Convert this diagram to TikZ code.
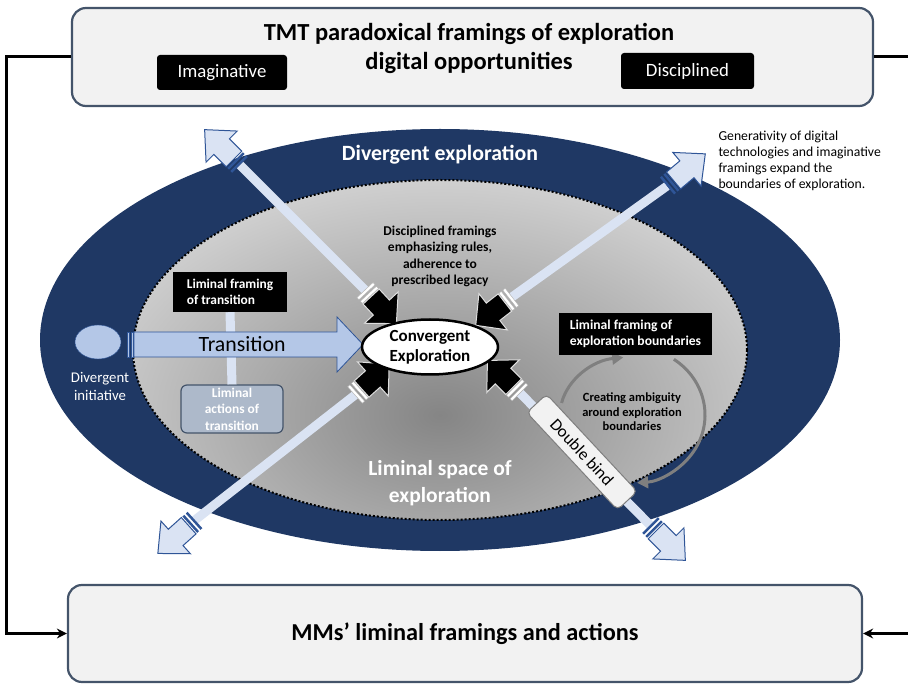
\documentclass[tikz,border=0pt]{standalone}
\usepackage{fontspec}
\setmainfont{Carlito}
\usetikzlibrary{arrows.meta,positioning,calc,shapes.geometric}

\definecolor{navy}{HTML}{1F3864}
\definecolor{boxgray}{HTML}{F2F2F2}
\definecolor{slate}{HTML}{44546A}
\definecolor{paleblue}{HTML}{DAE3F3}
\definecolor{midblue}{HTML}{B4C7E7}
\definecolor{edgeblue}{HTML}{2F5597}
\definecolor{actblue}{HTML}{ADB9CA}
\definecolor{ringgray}{HTML}{7F7F7F}
\definecolor{spacein}{HTML}{858585}
\definecolor{spaceout}{HTML}{D4D4D4}

\tikzset{
  mainbox/.style={draw=slate, line width=2.2pt, fill=boxgray, rounded corners=14pt},
  tagbox/.style={fill=black, text=white, rounded corners=3pt, font=\fontsize{18.8}{22}\selectfont},
  framebox/.style={fill=black, text=white, align=left, inner sep=3pt, font=\bfseries\fontsize{13.4}{16}\selectfont},
  feedback/.style={line width=3pt, -{Stealth[length=10pt,width=10pt]}},
  link/.style={paleblue, line width=9pt},
  ringarrow/.style={ringgray, line width=3pt, -{Triangle[length=11pt,width=12pt]}},
  outarrow/.pic={
    \fill[edgeblue] (0,-11) rectangle (2.5,11);
    \fill[edgeblue] (4.5,-11) rectangle (7,11);
    \draw[edgeblue, fill=paleblue, line width=1pt] (8.5,-11) -- (26,-11) -- (26,-22) -- (50,0) -- (26,22) -- (26,11) -- (8.5,11) -- cycle;
  },
  inarrow/.pic={
    \filldraw[fill=white, draw=gray!60] (0,-11) rectangle (3,11);
    \filldraw[fill=white, draw=gray!60] (5,-11) rectangle (8,11);
    \draw[gray!25, fill=black, line width=1pt] (9,-11) -- (24,-11) -- (24,-23) -- (46,0) -- (24,23) -- (24,11) -- (9,11) -- cycle;
  }
}

\begin{document}
\begin{tikzpicture}[x=1pt,y=1pt]
  \useasboundingbox (0,0) rectangle (908,-684);

  % spaces of exploration
  \fill[navy] (440,-340) ellipse [x radius=400, y radius=211];
  \begin{scope}
    \clip (440,-350) ellipse [x radius=307, y radius=170];
    \shade[inner color=spacein, outer color=spaceout] (440,-415) ellipse [x radius=390, y radius=250];
  \end{scope}
  \draw[dotted, line width=2pt] (440,-350) ellipse [x radius=307, y radius=170];

  \node[text=white, font=\bfseries\fontsize{21.8}{26}\selectfont] (divex) at (440,-155) {Divergent exploration};
  \node[text=white, font=\bfseries\fontsize{21.5}{27}\selectfont, align=center] (limsp) at (440,-483) {Liminal space of\\exploration};

  % outward and inward arrows
  \foreach \n/\ox/\oy/\oa/\ix/\iy/\ia in {ul/240/165/135/365/290/-47, ur/667/186/40/512/297/218, ll/195/520/222/355/395/42, lr/650/525/-45/520/393/135}
  {
    \coordinate (\n out) at (\ox,-\oy);
    \coordinate (\n in) at (\ix,-\iy);
    \draw[link] (\n out) -- (\n in);
    \pic[rotate=\oa] at (\n out) {outarrow};
    \pic[rotate=\ia] at (\n in) {inarrow};
  }

  % transition
  \node[framebox, minimum width=114pt, minimum height=40pt] (lft) at (230,-292) {Liminal framing\\of transition};
  \node[draw=slate, line width=1.2pt, fill=actblue, rounded corners=6pt, text=white, align=center, inner sep=0pt,
        minimum width=102pt, minimum height=48pt, font=\bfseries\fontsize{13.4}{16.5}\selectfont] (lat) at (232,-409) {Liminal\\actions of\\transition};
  \draw[link] (lft.south) -- (lat.north);

  \draw[edgeblue, fill=midblue, line width=0.8pt] (127,-332) rectangle (129.5,-357);
  \draw[edgeblue, fill=midblue, line width=0.8pt] (131,-332) rectangle (133,-357);
  \draw[edgeblue, fill=midblue, line width=0.8pt] (134,-332) -- (337,-332) -- (337,-317) -- (363,-344.5) -- (337,-372) -- (337,-357) -- (134,-357) -- cycle;
  \node[font=\fontsize{21.8}{26}\selectfont] (trans) at (242,-344) {Transition};

  \node[ellipse, draw=edgeblue, fill=midblue, minimum width=46pt, minimum height=34pt] (init) at (98,-342) {};
  \node[text=white, align=center, font=\fontsize{14.8}{18}\selectfont] (initlbl) at (100,-386) {Divergent\\initiative};

  % convergence
  \node[ellipse, draw, fill=white, line width=2.5pt, minimum width=136pt, minimum height=55pt, inner sep=0pt, align=center,
        font=\bfseries\fontsize{17}{20}\selectfont] (conv) at (430,-347) {Convergent\\Exploration};
  \node[align=center, font=\bfseries\fontsize{13.5}{16.3}\selectfont] (disc) at (440,-256.5) {Disciplined framings\\emphasizing rules,\\adherence to\\prescribed legacy};

  % boundaries
  \coordinate (ring) at (632,-415);
  \draw[ringarrow] ($(ring)+(168:72 and 58)$) arc[start angle=168, end angle=97, x radius=72, y radius=58];
  \draw[ringarrow] ($(ring)+(55:73 and 68)$) arc[start angle=55, end angle=-86, x radius=73, y radius=68];
  \node[framebox, font=\bfseries\fontsize{13.6}{16}\selectfont, minimum width=153pt, minimum height=42pt] (lfb) at (635.5,-334) {Liminal framing of\\exploration boundaries};
  \node[align=center, font=\bfseries\fontsize{12.5}{14.5}\selectfont] (ambig) at (632,-412) {Creating ambiguity\\around exploration\\boundaries};
  \node[draw=ringgray, fill=boxgray, line width=1pt, rounded corners=5pt, rotate=-47, minimum width=133pt, minimum height=27pt,
        font=\fontsize{17}{20}\selectfont] (bind) at (582,-452) {Double bind};

  \node[anchor=north west, align=left, font=\fontsize{13.7}{16}\selectfont] (gen) at (715,-127) {Generativity of digital\\technologies and imaginative\\framings expand the\\boundaries of exploration.};

  % TMT and MMs
  \node[mainbox, minimum width=801pt, minimum height=98pt] (tmt) at (472.5,-57) {};
  \node[align=center, font=\bfseries\fontsize{24.5}{29}\selectfont] (title) at (469,-48.5) {TMT paradoxical framings of exploration\\digital opportunities};
  \node[tagbox, minimum width=130pt, minimum height=35pt] (imag) at (222,-72.5) {Imaginative};
  \node[tagbox, minimum width=133pt, minimum height=36pt] (disp) at (687.5,-71) {Disciplined};

  \node[mainbox, minimum width=794pt, minimum height=97pt, font=\bfseries\fontsize{24.3}{28}\selectfont] (mms) at (465,-633.5) {MMs’ liminal framings and actions};

  \coordinate (rtop) at (908,-57);
  \coordinate (rbot) at (908,-633.5);
  \draw[feedback] (tmt.west) -- ++(-64,0) |- (mms.west);
  \draw[line width=3pt] (tmt.east) -- (rtop);
  \draw[feedback] (rbot) -- (mms.east);
\end{tikzpicture}
\end{document}
